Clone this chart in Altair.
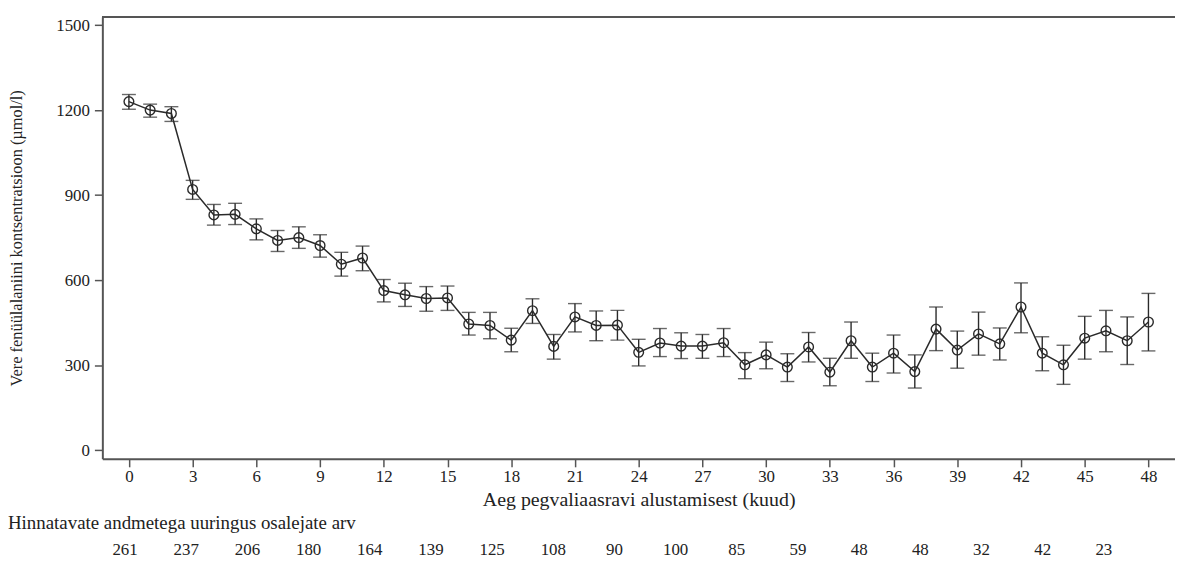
import altair as alt
import pandas as pd

months = list(range(0, 49))
mean = [1230, 1200, 1188, 920, 830, 832, 781, 740, 750, 722, 656, 678, 563, 548, 535, 537,
        445, 440, 388, 492, 366, 470, 440, 441, 345, 378, 367, 367, 379, 301, 336, 293,
        364, 275, 386, 293, 342, 277, 427, 353, 410, 375, 505, 342, 301, 395, 421, 386, 452]
upper = [1255, 1221, 1212, 952, 867, 871, 816, 775, 788, 760, 698, 720, 602, 589, 577, 579,
         486, 486, 430, 534, 408, 517, 491, 493, 391, 429, 414, 408, 429, 344, 381, 340,
         415, 324, 452, 342, 406, 336, 505, 420, 487, 431, 590, 400, 370, 472, 493, 470, 553]
lower = [1203, 1175, 1160, 885, 794, 796, 742, 701, 712, 681, 614, 633, 523, 507, 490, 493,
         406, 393, 347, 447, 321, 417, 386, 388, 297, 330, 323, 324, 330, 252, 287, 242,
         311, 227, 324, 242, 272, 219, 351, 289, 335, 318, 414, 280, 232, 321, 347, 302, 350]

count_months = list(range(0, 49, 3))
counts = [261, 237, 206, 180, 164, 139, 125, 108, 90, 100, 85, 59, 48, 48, 32, 42, 23]

x_ticks = list(range(0, 49, 3))
y_ticks = [0, 300, 600, 900, 1200, 1500]

FONT = "Liberation Serif"
W, H = 1080, 445

df = pd.DataFrame({"month": months, "mean": mean, "upper": upper, "lower": lower})
cdf = pd.DataFrame({"m": count_months, "n": [str(c) for c in counts]})

xscale = alt.Scale(domain=[-1.25, 49.25], nice=False, zero=False)
yscale = alt.Scale(domain=[-31, 1529], nice=False, zero=False)

xaxis = alt.Axis(values=x_ticks, title="Aeg pegvaliaasravi alustamisest (kuud)",
                 titleY=41, titleBaseline="middle", titleFontSize=20, labelPadding=2,
                 format="d")
yaxis = alt.Axis(values=y_ticks, title="Vere fenüülalaniini kontsentratsioon (µmol/l)",
                 titleX=-86, titleBaseline="middle", titleFontSize=16.5, labelPadding=5,
                 format="d")

base = alt.Chart(df)

err = base.mark_errorbar(ticks=True, size=14, thickness=1.4, color="#2a2a2a").encode(
    x=alt.X("month:Q", scale=xscale, axis=xaxis),
    y=alt.Y("lower:Q", scale=yscale, axis=yaxis),
    y2="upper:Q",
)

line = base.mark_line(color="#2a2a2a", strokeWidth=1.5).encode(
    x=alt.X("month:Q", scale=xscale),
    y=alt.Y("mean:Q", scale=yscale),
)

pts = base.mark_point(shape="circle", size=95, filled=False,
                      stroke="#2a2a2a", strokeWidth=1.4, opacity=1).encode(
    x=alt.X("month:Q", scale=xscale),
    y=alt.Y("mean:Q", scale=yscale),
)

top_rule = alt.Chart(df).mark_rule(color="#555555", strokeWidth=2).encode(
    x=alt.value(0), x2=alt.value(W), y=alt.value(0)
)

heading = alt.Chart(pd.DataFrame({"t": ["Hinnatavate andmetega uuringus osalejate arv"]})).mark_text(
    align="left", baseline="middle", font=FONT, fontSize=19, color="#222222"
).encode(x=alt.value(-95), y=alt.value(510), text="t:N")

count_text = alt.Chart(cdf).transform_calculate(
    xpos="datum.m * 0.96 - 0.18"
).mark_text(baseline="middle", font=FONT, fontSize=17, color="#222222").encode(
    x=alt.X("xpos:Q", scale=xscale),
    y=alt.value(537),
    text="n:N",
)

chart = alt.layer(err, line, pts, top_rule, heading, count_text).properties(
    width=W, height=H,
    autosize=alt.AutoSizeParams(type="none"),
    padding={"left": 95, "top": 7, "right": 0, "bottom": 116},
).configure_view(stroke=None).configure_axis(
    grid=False,
    domainColor="#555555", domainWidth=2,
    tickColor="#555555", tickWidth=1.5, tickSize=8,
    labelFont=FONT, labelFontSize=17, labelColor="#222222",
    titleFont=FONT, titleFontWeight="normal", titleColor="#222222",
)

chart.save("out.html", embed_options={"renderer": "svg", "actions": False})
